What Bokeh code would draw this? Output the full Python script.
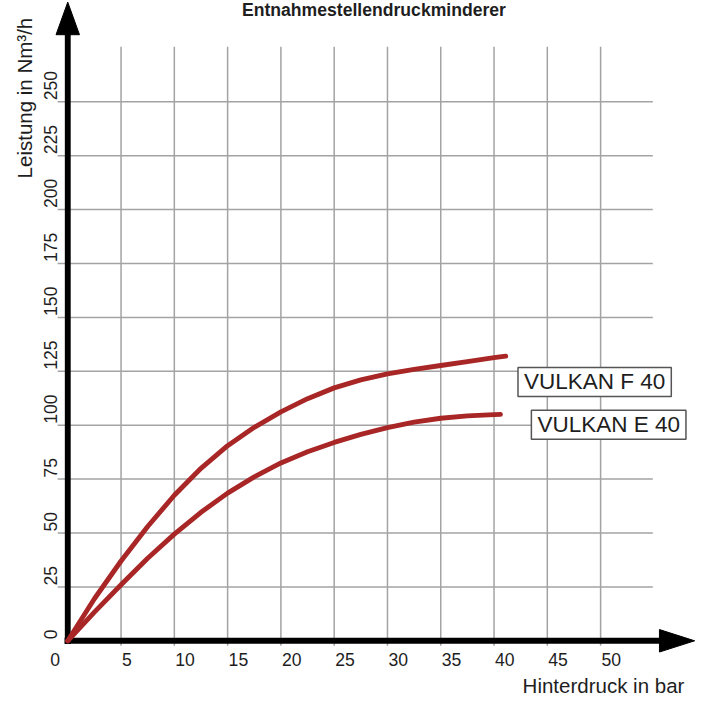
import math
from bokeh.plotting import figure
from bokeh.models import Range1d, Label
from bokeh.core.properties import value
from bokeh.embed import file_html
from bokeh.resources import INLINE

# ---- data ----
title_text = "Entnahmestellendruckminderer"
x_axis_label = "Hinterdruck in bar"
y_axis_label = "Leistung in Nm³/h"

x_ticks = [0, 5, 10, 15, 20, 25, 30, 35, 40, 45, 50]
x_tick_labels = ["0", "5", "10", "15", "20", "25", "30", "35", "40", "45", "50"]
y_ticks = [0, 25, 50, 75, 100, 125, 150, 175, 200, 225, 250]
y_tick_labels = ["0", "25", "50", "75", "100", "125", "150", "175", "200", "225", "250"]

grid_x = [5, 10, 15, 20, 25, 30, 35, 40, 45, 50]
grid_y = [25, 50, 75, 100, 125, 150, 175, 200, 225, 250]
grid_x_top = 275.5
grid_y_right = 54.9

f_x = [0, 2.5, 5, 7.5, 10, 12.5, 15, 17.5, 20, 22.5, 25, 27.5, 30, 32.5, 35, 37.5, 40, 41.1]
f_y = [0, 19.5, 37, 53, 67.5, 80, 90.5, 99, 106.2, 112.3, 117.3, 121, 123.8, 125.9, 127.7, 129.5, 131.3, 132]
e_x = [0, 2.5, 5, 7.5, 10, 12.5, 15, 17.5, 20, 22.5, 25, 27.5, 30, 32.5, 35, 37.5, 40, 40.6]
e_y = [0, 13.3, 26, 38.3, 49.5, 59.6, 68.5, 76, 82.5, 87.7, 92, 95.7, 98.9, 101.4, 103.2, 104.3, 104.9, 105]
series_names = ["VULKAN F 40", "VULKAN E 40"]

# ---- geometry ----
W, H = 701, 697
REF_W, REF_H = 717, 713
S = W / REF_W                 # screen scale of the whole drawing
PX_X = 10.9                   # reference px per x unit
PX_Y = 2.2056                 # reference px per y unit
OX, OY = 68.8, 655.0          # reference px of the origin
MID = 0.35                    # baseline -> middle of text, in em

x0 = -OX / PX_X
x1 = (REF_W - OX) / PX_X
y0 = -(REF_H - OY) / PX_Y
y1 = OY / PX_Y


def dx(px):
    return (px - OX) / PX_X


def dy(py):
    return (OY - py) / PX_Y


p = figure(width=W, height=H, x_range=Range1d(x0, x1), y_range=Range1d(y0, y1),
           output_backend="svg", toolbar_location=None,
           x_axis_location=None, y_axis_location=None,
           min_border=0, outline_line_color=None, background_fill_color="white")
p.grid.visible = False

FONT = value("Liberation Sans")
GRID_COLOR = "#a3a3a3"
RED = "#a92626"
TXT = "#1e1e1e"


def fs(px):
    return f"{px * S:.1f}px"


# grid lines
p.segment(x0=grid_x, y0=[-2.3] * len(grid_x), x1=grid_x, y1=[grid_x_top] * len(grid_x),
          line_color=GRID_COLOR, line_width=1.5)
p.segment(x0=[-0.95] * len(grid_y), y0=grid_y, x1=[grid_y_right] * len(grid_y), y1=grid_y,
          line_color=GRID_COLOR, line_width=1.5)

# axes with arrow heads
ya_base = dy(35)
ya_tip = dy(1.7)
xa_base = dx(674)
xa_tip = dx(710)
p.segment(x0=[0], y0=[-1.5], x1=[0], y1=[ya_base + 1], line_color="black", line_width=6 * S)
p.segment(x0=[-0.3], y0=[0], x1=[xa_base + 0.2], y1=[0], line_color="black", line_width=6 * S)
hw_y = 12 / PX_X
hh_x = 11.5 / PX_Y
p.patch(x=[-hw_y, 0, hw_y], y=[ya_base, ya_tip, ya_base], fill_color="black", line_color="black")
p.patch(x=[xa_base, xa_tip, xa_base], y=[-hh_x, 0, hh_x], fill_color="black", line_color="black")

# curves
p.line(f_x, f_y, line_color=RED, line_width=5 * S, line_cap="round", line_join="round")
p.line(e_x, e_y, line_color=RED, line_width=5 * S, line_cap="round", line_join="round")

# tick labels (anchored at the middle of the text)
TICK_FS = 18
x_offsets = [-18 * S] + [1 * S] * (len(x_ticks) - 1)
p.text(x=x_ticks, y=[0] * len(x_ticks), text=x_tick_labels, x_offset=x_offsets,
       y_offset=(680 - MID * TICK_FS - OY) * S,
       text_font=FONT, text_font_size=fs(TICK_FS), text_color=TXT,
       text_align="left", text_baseline="middle")
p.text(x=[0] * len(y_ticks), y=y_ticks, text=y_tick_labels,
       x_offset=(57 - MID * TICK_FS - OX) * S, y_offset=-1.5 * S,
       angle=math.pi / 2, text_font=FONT, text_font_size=fs(TICK_FS), text_color=TXT,
       text_align="left", text_baseline="middle")

# axis labels and title
LBL_FS = 21
p.add_layout(Label(x=dx(32 - MID * LBL_FS), y=dy(182), text=y_axis_label, angle=math.pi / 2,
                   text_font="Liberation Sans", text_font_size=fs(LBL_FS), text_color=TXT,
                   text_align="left", text_baseline="middle"))
p.add_layout(Label(x=dx(534), y=dy(708 - MID * LBL_FS), text=x_axis_label,
                   text_font="Liberation Sans", text_font_size=fs(LBL_FS), text_color=TXT,
                   text_align="left", text_baseline="middle"))
TITLE_FS = 18
p.add_layout(Label(x=dx(382), y=dy(16.5 - MID * TITLE_FS), text=title_text,
                   text_font="Liberation Sans", text_font_size=fs(TITLE_FS), text_font_style="bold",
                   text_color=TXT, text_align="center", text_baseline="middle"))

# series labels (boxed)
SER_FS = 23
for name, lx, ly in [(series_names[0], 529.3, 398.3), (series_names[1], 543.0, 442.0)]:
    p.add_layout(Label(x=dx(lx), y=dy(ly - MID * SER_FS), text=name,
                       text_font="Liberation Sans", text_font_size=fs(SER_FS), text_color=TXT,
                       text_align="left", text_baseline="middle",
                       background_fill_color="white", border_line_color="#555555",
                       border_line_width=1.5, padding=(6, 2)))

open("out.html", "w").write(file_html(p, INLINE))
